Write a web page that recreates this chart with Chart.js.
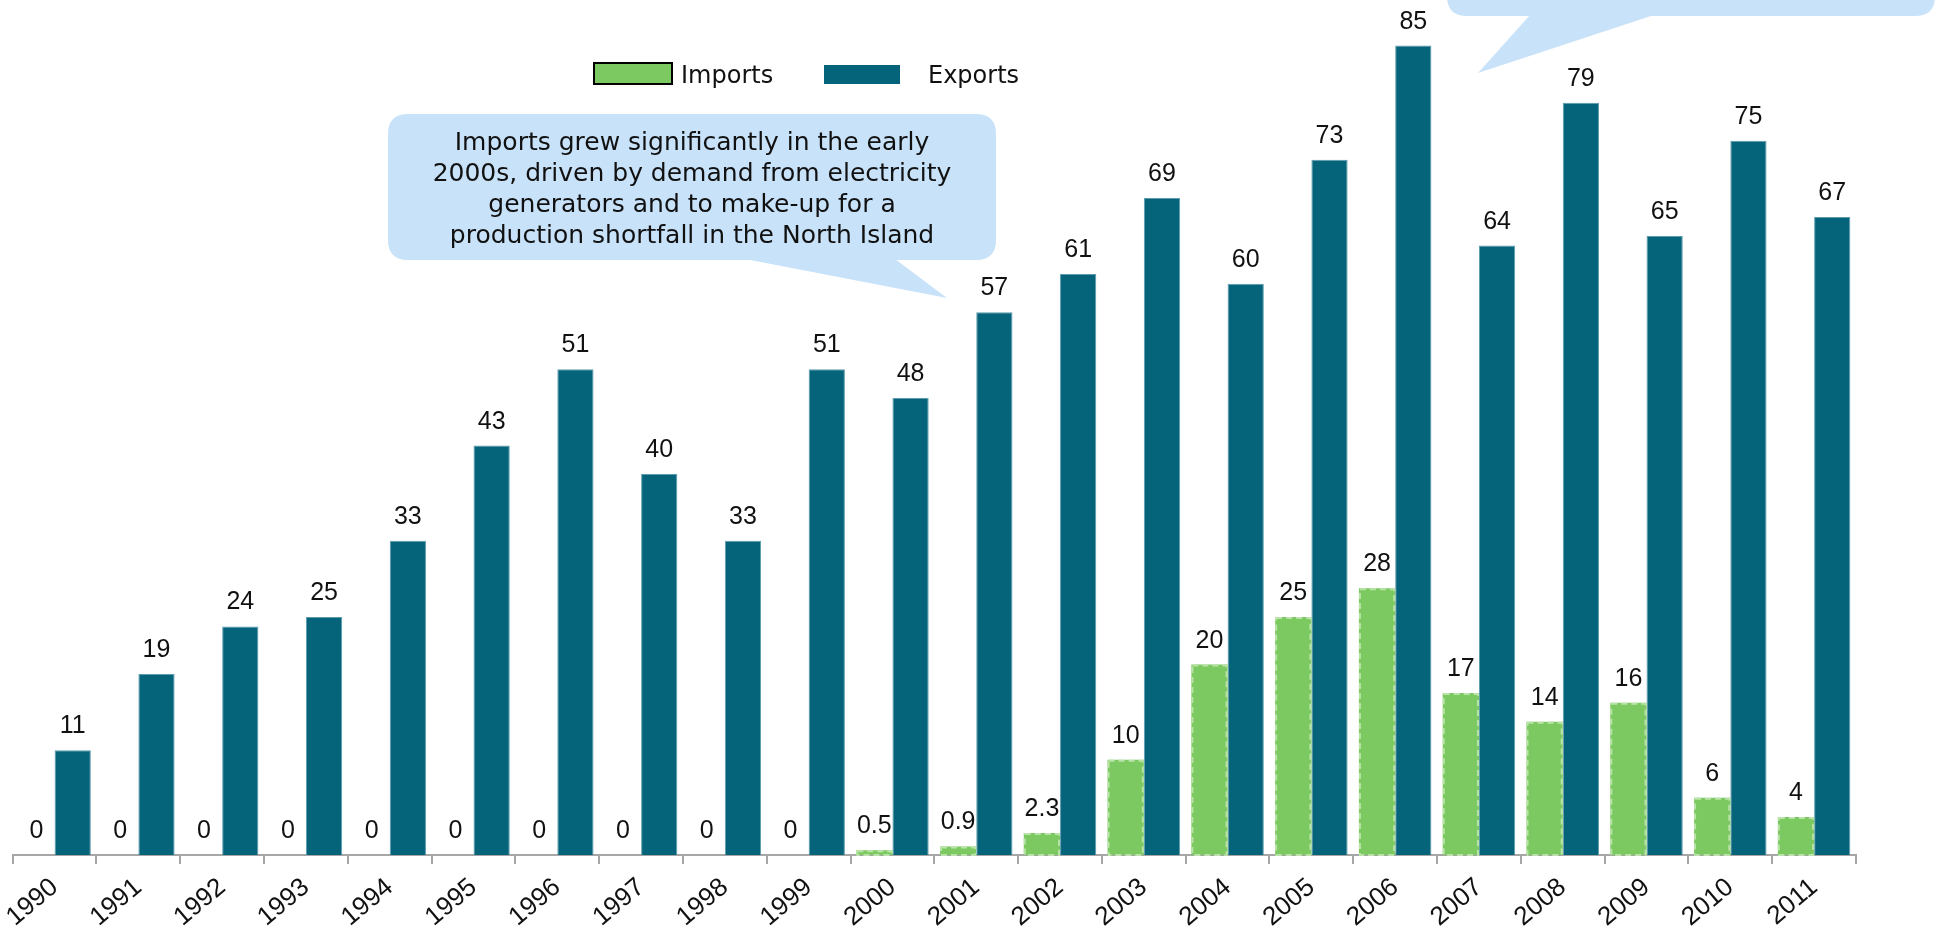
<!DOCTYPE html>
<html>
<head>
<meta charset="utf-8">
<script src="https://cdn.jsdelivr.net/npm/chart.js@4.4.1/dist/chart.umd.min.js"></script>
<style>
  html, body { margin: 0; padding: 0; background: #fff; }
  #wrap { width: 1943px; height: 931px; }
</style>
</head>
<body>
<div id="wrap"><canvas id="chart" width="1943" height="931"></canvas></div>
<script>
  const years = ['1990', '1991', '1992', '1993', '1994', '1995', '1996', '1997', '1998', '1999', '2000',
    '2001', '2002', '2003', '2004', '2005', '2006', '2007', '2008', '2009', '2010', '2011'];
  const imports = [0, 0, 0, 0, 0, 0, 0, 0, 0, 0, 0.5, 0.9, 2.3, 10, 20, 25, 28, 17, 14, 16, 6, 4];
  const exports = [11, 19, 24, 25, 33, 43, 51, 40, 33, 51, 48, 57, 61, 69, 60, 73, 85, 64, 79, 65, 75, 67];
  const calloutLines = [
    'Imports grew significantly in the early',
    '2000s, driven by demand from electricity',
    'generators and to make-up for a',
    'production shortfall in the North Island',
  ];

  const FONT = '"DejaVu Sans", sans-serif';
  const NUM_FONT = '"Liberation Sans", Arial, sans-serif';
  const GREEN = '#7CC962';
  const TEAL = '#05637A';
  const BUBBLE = '#C8E2F9';

  function roundRect(ctx, x, y, w, h, r) {
    ctx.beginPath();
    ctx.moveTo(x + r, y);
    ctx.lineTo(x + w - r, y);
    ctx.quadraticCurveTo(x + w, y, x + w, y + r);
    ctx.lineTo(x + w, y + h - r);
    ctx.quadraticCurveTo(x + w, y + h, x + w - r, y + h);
    ctx.lineTo(x + r, y + h);
    ctx.quadraticCurveTo(x, y + h, x, y + h - r);
    ctx.lineTo(x, y + r);
    ctx.quadraticCurveTo(x, y, x + r, y);
    ctx.closePath();
  }

  function bubble(ctx, box, tail) {
    ctx.fillStyle = BUBBLE;
    roundRect(ctx, box.x, box.y, box.w, box.h, 20);
    ctx.fill();
    ctx.beginPath();
    ctx.moveTo(tail[0][0], tail[0][1]);
    ctx.lineTo(tail[1][0], tail[1][1]);
    ctx.lineTo(tail[2][0], tail[2][1]);
    ctx.closePath();
    ctx.fill();
  }

  const extras = {
    id: 'extras',
    afterDatasetsDraw(chart) {
      const ctx = chart.ctx;
      ctx.save();
      // dashed edge on import bars
      chart.getDatasetMeta(0).data.forEach((bar) => {
        const h = bar.base - bar.y;
        if (h < 1) return;
        ctx.strokeStyle = '#B9E3A8';
        ctx.lineWidth = 2;
        ctx.setLineDash([6, 4]);
        ctx.strokeRect(bar.x - bar.width / 2 + 1, bar.y + 1, bar.width - 2, h - 1);
      });
      ctx.setLineDash([]);
      // value labels
      ctx.fillStyle = '#111';
      ctx.font = '25px ' + NUM_FONT;
      ctx.textAlign = 'center';
      ctx.textBaseline = 'alphabetic';
      chart.data.datasets.forEach((ds, i) => {
        chart.getDatasetMeta(i).data.forEach((bar, j) => {
          ctx.fillText(String(ds.data[j]), bar.x, bar.y - 17);
        });
      });
      ctx.restore();
    },
    afterDraw(chart) {
      const ctx = chart.ctx;
      ctx.save();
      // callouts
      bubble(ctx, { x: 1447, y: -80, w: 488, h: 96 }, [[1530, 15], [1478, 73], [1654, 15]]);
      bubble(ctx, { x: 388, y: 114, w: 608, h: 146 }, [[745, 259], [947, 298], [895, 259]]);
      ctx.fillStyle = '#111';
      ctx.font = '25px ' + FONT;
      ctx.textAlign = 'center';
      ctx.textBaseline = 'alphabetic';
      calloutLines.forEach((line, i) => ctx.fillText(line, 692, 150 + i * 31));
      // legend
      ctx.fillStyle = GREEN;
      ctx.fillRect(594, 63, 78, 21);
      ctx.strokeStyle = '#000';
      ctx.lineWidth = 2;
      ctx.strokeRect(594, 63, 78, 21);
      ctx.fillStyle = TEAL;
      ctx.fillRect(824, 65, 76, 19);
      ctx.fillStyle = '#111';
      ctx.font = '24px ' + FONT;
      ctx.textAlign = 'left';
      ctx.fillText(chart.data.datasets[0].label, 681, 83);
      ctx.fillText(chart.data.datasets[1].label, 928, 83);
      ctx.restore();
    },
  };

  new Chart(document.getElementById('chart'), {
    type: 'bar',
    data: {
      labels: years,
      datasets: [
        { label: 'Imports', data: imports, backgroundColor: GREEN, borderWidth: 0 },
        { label: 'Exports', data: exports, backgroundColor: TEAL, borderColor: '#5C9CAE', borderWidth: 1 },
      ],
    },
    options: {
      responsive: false,
      animation: false,
      layout: { padding: { left: 12.7, right: 87, top: 17, bottom: 0 } },
      plugins: { legend: { display: false }, tooltip: { enabled: false } },
      datasets: { bar: { categoryPercentage: 0.865, barPercentage: 1 } },
      scales: {
        x: {
          afterFit(scale) {
            scale.height = 76;
            scale.paddingLeft = 0;
            scale.paddingRight = 0;
          },
          grid: { drawOnChartArea: false, tickLength: 9, color: '#A6A6A6', lineWidth: 2 },
          border: { display: true, color: '#A6A6A6', width: 2 },
          ticks: {
            autoSkip: false,
            minRotation: 40,
            maxRotation: 40,
            padding: 8,
            color: '#111',
            font: { family: NUM_FONT, size: 26 },
          },
        },
        y: { display: false, min: 0, max: 88 },
      },
    },
    plugins: [extras],
  });
</script>
</body>
</html>
